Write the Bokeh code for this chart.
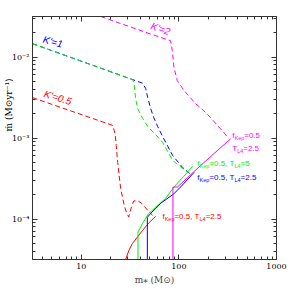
from bokeh.plotting import figure
from bokeh.models import LogAxis, FixedTicker, Label, Range1d, CustomJSTickFormatter, Title
from bokeh.embed import file_html
from bokeh.resources import INLINE

# ---------------- data ----------------
# dashed curves K'=0.5, 1, 2
k05_x = [3.16, 21.0, 22.2, 22.8, 23.6, 25.3, 27.5, 29.2, 30.6, 32.1, 34.4, 37.8, 41.6, 49.0, 53.8]
k05_y = [0.00315, 0.00143, 0.00113, 0.000809, 0.000499, 0.000239, 0.000148, 0.000118,
         0.000106, 0.000132, 0.000167, 0.000168, 0.000156, 0.000124, 0.000111]

k1_blue_x = [3.16, 33.7, 42.6, 45.7, 47.9, 51.4, 55.2, 60.6, 68.2, 86.3, 109, 132]
k1_blue_y = [0.0146, 0.00525, 0.00474, 0.00407, 0.00316, 0.00231, 0.00179, 0.00139,
             0.00104, 0.000608, 0.000434, 0.000356]

k1_green_x = [3.16, 33.7, 34.8, 36.0, 37.8, 42.6, 47.9, 57.8, 68.2, 86.3, 109, 132]
k1_green_y = [0.0146, 0.00525, 0.00456, 0.00306, 0.00231, 0.00174, 0.00139, 0.00110,
              0.00088, 0.000528, 0.000421, 0.000356]

k2_x = [15.8, 51.4, 82.2, 85.6, 89.0, 96.3, 113, 148, 179, 211, 248, 287, 323]
k2_y = [0.0316, 0.0192, 0.0159, 0.01197, 0.00745, 0.00510, 0.00385, 0.00266, 0.00218,
        0.00179, 0.00143, 0.00118, 0.000985]

# solid curves (f_Kep = 0.5)
red_x = [28.3, 30.8, 33.4, 37.6, 42.6, 49.3, 57.8]
red_y = [3.1e-5, 4.12e-5, 4.98e-5, 6.0e-5, 7.26e-5, 8.98e-5, 0.000108]

green_x = [38.1, 38.1, 42.3, 49.0, 57.8, 73.1, 88.3, 112, 138]
green_y = [3.1e-5, 6.92e-5, 8.77e-5, 0.000117, 0.000139, 0.000180, 0.000246, 0.000336, 0.000446]

blue_x = [47.5, 47.5, 51.4, 65.0, 89.0, 112, 143]
blue_y = [3.1e-5, 0.000105, 0.000117, 0.000156, 0.000205, 0.000273, 0.000376]

mag_x = [86.9, 86.9, 96.4, 167, 339]
mag_y = [3.1e-5, 0.000248, 0.000248, 0.000458, 0.000977]

# ticks
x_major = [10, 100, 1000]
x_labels = ["10", "100", "1000"]
x_minor = [4, 5, 6, 7, 8, 9, 20, 30, 40, 50, 60, 70, 80, 90,
           200, 300, 400, 500, 600, 700, 800, 900]
y_major = [1e-4, 1e-3, 1e-2]
y_labels = ["10\u207b\u2074", "10\u207b\u00b3", "10\u207b\u00b2"]
y_minor = [4e-5, 5e-5, 6e-5, 7e-5, 8e-5, 9e-5,
           2e-4, 3e-4, 4e-4, 5e-4, 6e-4, 7e-4, 8e-4, 9e-4,
           2e-3, 3e-3, 4e-3, 5e-3, 6e-3, 7e-3, 8e-3, 9e-3, 2e-2, 3e-2]

x_title = "m\u204e (M\u2299)"
y_title = "\u1e41 (M\u2299yr\u207b\u00b9)"

RED, GREEN, BLUE, MAG = "#ff0000", "#00ee00", "#0000ff", "#ff00ff"
SERIF_FONT = "DejaVu Serif"

# ---------------- figure ----------------
p = figure(frame_width=244, frame_height=243, x_axis_type="log", y_axis_type="log",
           x_range=Range1d(10 ** 0.5, 1000), y_range=Range1d(10 ** -4.5, 10 ** -1.5),
           output_backend="svg", toolbar_location=None,
           min_border_left=32, min_border_right=15, min_border_top=16, min_border_bottom=32)
p.xgrid.visible = False
p.ygrid.visible = False
p.outline_line_color = "#333333"
p.background_fill_color = "white"
p.border_fill_color = "white"

code = """
let best = 0; let d = Infinity;
for (let i = 0; i < major_vals.length; i++) {
  const dd = Math.abs(Math.log10(tick) - Math.log10(major_vals[i]));
  if (dd < d) { d = dd; best = i; }
}
return major_labels[best];
"""
xfmt = CustomJSTickFormatter(args=dict(major_vals=x_major, major_labels=x_labels), code=code)
yfmt = CustomJSTickFormatter(args=dict(major_vals=y_major, major_labels=y_labels), code=code)
blank = CustomJSTickFormatter(code="return ''")


def style_axis(ax):
    ax.axis_line_color = "#333333"
    ax.major_tick_line_color = "#333333"
    ax.minor_tick_line_color = "#333333"
    ax.major_tick_in = 5
    ax.major_tick_out = 0
    ax.minor_tick_in = 3
    ax.minor_tick_out = 0
    ax.major_label_text_font = SERIF_FONT
    ax.major_label_text_font_size = "8px"
    ax.major_label_text_color = "black"


p.xaxis.ticker = FixedTicker(ticks=x_major, minor_ticks=x_minor)
p.xaxis.formatter = xfmt
p.yaxis.ticker = FixedTicker(ticks=y_major, minor_ticks=y_minor)
p.yaxis.formatter = yfmt
style_axis(p.xaxis[0])
style_axis(p.yaxis[0])
p.xaxis.major_label_standoff = 4
p.yaxis.major_label_standoff = 3
p.xaxis.axis_label = x_title
p.xaxis.axis_label_text_font = SERIF_FONT
p.xaxis.axis_label_text_font_size = "9px"
p.xaxis.axis_label_text_font_style = "normal"
p.xaxis.axis_label_standoff = 3

top = LogAxis(ticker=FixedTicker(ticks=x_major, minor_ticks=x_minor), formatter=blank)
right = LogAxis(ticker=FixedTicker(ticks=y_major, minor_ticks=y_minor), formatter=blank)
style_axis(top)
style_axis(right)
p.add_layout(top, "above")
p.add_layout(right, "right")

p.add_layout(Title(text=y_title, align="right", offset=62, standoff=-10,
                   text_font=SERIF_FONT, text_font_size="9px", text_font_style="normal",
                   text_color="black"), "left")

# ---------------- curves ----------------
dash = "5 3"
p.line(k05_x, k05_y, line_color=RED, line_width=1, line_dash=dash)
p.line(k1_blue_x, k1_blue_y, line_color=BLUE, line_width=1, line_dash=dash)
p.line(k1_green_x, k1_green_y, line_color=GREEN, line_width=1, line_dash=dash)
p.line(k2_x, k2_y, line_color=MAG, line_width=1, line_dash=dash)

p.line(red_x, red_y, line_color=RED, line_width=1)
p.line(green_x, green_y, line_color=GREEN, line_width=1)
p.line(blue_x, blue_y, line_color=BLUE, line_width=1)
p.line(mag_x, mag_y, line_color=MAG, line_width=1)

# ---------------- in-plot labels ----------------
SANS = {"f": .278, "K": .667, "e": .556, "p": .556, "=": .584, ".": .278, ",": .278,
        " ": .278, "T": .611, "L": .556}


def width(t, size):
    return sum(SANS.get(c, .556) * size for c in t)


def rich(x, y, pieces, color):
    adv = 0.0
    for t, s, sh in pieces:
        p.add_layout(Label(x=x, y=y, x_offset=adv, y_offset=-sh, text=t,
                           text_font="Liberation Sans", text_font_size=f"{s}px",
                           text_color=color, text_baseline="middle", text_align="left"))
        adv += width(t, s)


def fk(t4, color, x, y):
    rich(x, y, [("f", 8, 0), ("Kep", 5.5, 2.5), ("=0.5, T", 8, 0), ("L4", 5.5, 2.5),
                (f"={t4}", 8, 0)], color)


fk("5", GREEN, 154.5, 0.000481)
fk("2.5", BLUE, 154.5, 0.000329)
fk("2.5", RED, 67.8, 0.000108)
rich(352, 0.00107, [("f", 8, 0), ("Kep", 5.5, 2.5), ("=0.5", 8, 0)], MAG)
rich(352, 0.000736, [("T", 8, 0), ("L4", 5.5, 2.5), ("=2.5", 8, 0)], MAG)

for txt, col, lx, ly, ang in [("K'=1", BLUE, 5.1, 0.0154, -15),
                              ("K'=0.5", RED, 5.74, 0.00315, -17),
                              ("K'=2", MAG, 65.0, 0.0223, -20)]:
    p.add_layout(Label(x=lx, y=ly, text=txt, text_color=col, text_font="Liberation Sans",
                       text_font_style="italic", text_font_size="10px",
                       text_align="center", text_baseline="middle",
                       angle=ang, angle_units="deg"))

open("out.html", "w").write(file_html(p, INLINE))
